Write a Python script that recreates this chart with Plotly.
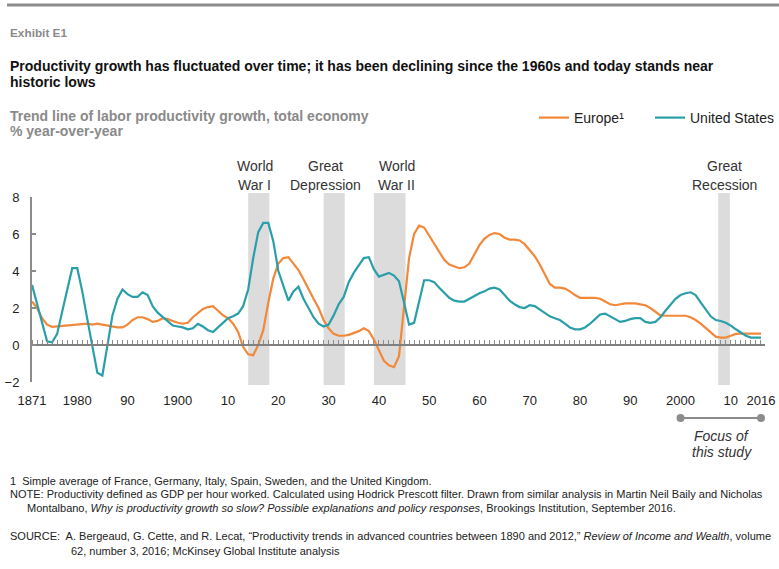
import plotly.graph_objects as go

years = list(range(1871, 2017))

us = [3.25, 2.2, 1.1, 0.2, 0.15, 0.6, 1.8, 2.9, 4.15, 4.15,
      2.9, 1.4, 0.0, -1.5, -1.65, 0.0, 1.6, 2.5, 3.0, 2.75,
      2.6, 2.6, 2.85, 2.7, 2.1, 1.75, 1.5, 1.25, 1.05, 1.0,
      0.95, 0.85, 0.9, 1.15, 1.0, 0.8, 0.7, 0.95, 1.2, 1.45,
      1.55, 1.7, 2.1, 3.0, 4.7, 6.1, 6.6, 6.6, 5.6, 4.0,
      3.2, 2.4, 2.9, 3.15, 2.5, 2.0, 1.5, 1.15, 1.0, 1.1,
      1.6, 2.2, 2.6, 3.4, 3.9, 4.3, 4.7, 4.75, 4.1, 3.7,
      3.8, 3.9, 3.75, 3.45, 2.3, 1.1, 1.2, 2.3, 3.5, 3.5,
      3.4, 3.1, 2.8, 2.55, 2.4, 2.35, 2.35, 2.5, 2.65, 2.8,
      2.9, 3.05, 3.1, 3.0, 2.7, 2.4, 2.2, 2.05, 2.0, 2.15,
      2.1, 1.9, 1.7, 1.55, 1.45, 1.35, 1.15, 0.95, 0.85, 0.85,
      0.95, 1.15, 1.4, 1.65, 1.7, 1.55, 1.4, 1.25, 1.3, 1.4,
      1.45, 1.45, 1.25, 1.2, 1.25, 1.5, 1.85, 2.2, 2.5, 2.7,
      2.8, 2.85, 2.7, 2.3, 1.9, 1.55, 1.35, 1.3, 1.2, 1.05,
      0.85, 0.65, 0.5, 0.4, 0.4, 0.4]

europe = [2.35, 2.0, 1.45, 1.1, 0.98, 1.0, 1.05, 1.05, 1.05, 1.1,
          1.1, 1.15, 1.1, 1.15, 1.1, 1.05, 1.0, 0.95, 0.95, 1.1,
          1.35, 1.5, 1.5, 1.4, 1.25, 1.3, 1.45, 1.4, 1.3, 1.2,
          1.15, 1.2, 1.5, 1.75, 1.95, 2.05, 2.1, 1.85, 1.6, 1.45,
          1.15, 0.7, -0.1, -0.5, -0.55, 0.0, 0.8, 2.3, 3.6, 4.4,
          4.7, 4.75, 4.4, 4.05, 3.55, 3.0, 2.5, 2.0, 1.35, 0.9,
          0.6, 0.5, 0.5, 0.55, 0.65, 0.75, 0.9, 0.75, 0.3, -0.3,
          -0.85, -1.1, -1.2, -0.6, 2.0, 4.7, 6.0, 6.45, 6.35, 5.9,
          5.45, 5.0, 4.6, 4.35, 4.25, 4.15, 4.2, 4.4, 4.9, 5.4,
          5.75, 5.95, 6.05, 6.0, 5.8, 5.7, 5.7, 5.65, 5.45, 5.15,
          4.8, 4.35, 3.85, 3.3, 3.1, 3.1, 3.05, 2.9, 2.7, 2.55,
          2.55, 2.55, 2.55, 2.5, 2.35, 2.2, 2.15, 2.2, 2.25, 2.25,
          2.25, 2.2, 2.15, 2.0, 1.8, 1.6, 1.58, 1.58, 1.58, 1.58,
          1.58, 1.5, 1.35, 1.15, 0.9, 0.65, 0.45, 0.4, 0.4, 0.5,
          0.6, 0.62, 0.62, 0.62, 0.62, 0.62]

tick_years = [1871, 1880, 1890, 1900, 1910, 1920, 1930, 1940, 1950, 1960,
              1970, 1980, 1990, 2000, 2010, 2016]
tick_labels = ["1871", "1980", "90", "1900", "10", "20", "30", "40", "50", "60",
               "70", "80", "90", "2000", "10", "2016"]
y_ticks = [-2, 0, 2, 4, 6, 8]

# (line 1, line 2, band start, band end, label centre year)
events = [("World", "War I", 1914, 1918.2, 1915.3),
          ("Great", "Depression", 1929, 1933.2, 1929.3),
          ("World", "War II", 1939, 1945.3, 1943.6),
          ("Great", "Recession", 2007.5, 2009.8, 2008.8)]

W, H = 779, 569
L, R, T, B = 32, 14, 193, 184
PW, PH = W - L - R, H - T - B
bottom_px = H - B


def px(x):
    return (x - L) / PW


def py(y):
    return (bottom_px - y) / PH


ylo, yhi = py(382), py(197)
zero_pos = ylo + (0 - (-2)) / 10 * (yhi - ylo)

ORANGE = "#F2883A"
TEAL = "#2A9FA9"
FONT = "Liberation Sans, Arial, sans-serif"

fig = go.Figure()
fig.add_trace(go.Scatter(x=years, y=europe, mode="lines", name="Europe¹",
                         line=dict(color=ORANGE, width=2.2), legend="legend"))
fig.add_trace(go.Scatter(x=years, y=us, mode="lines", name="United States",
                         line=dict(color=TEAL, width=2.2), legend="legend2"))
fig.add_trace(go.Scatter(x=[years[0], years[-1]], y=[0, 0], xaxis="x2", mode="lines",
                         line=dict(color="rgba(0,0,0,0)", width=0), showlegend=False,
                         hoverinfo="skip"))

xrange = [1871, 2016.8]

shapes = []
for l1, l2, x0, x1, xl in events:
    shapes.append(dict(type="rect", xref="x", yref="paper", x0=x0, x1=x1, y0=0, y1=1,
                       fillcolor="#DCDCDC", line=dict(width=0), layer="below"))
# top rule
shapes.append(dict(type="line", xref="paper", yref="paper", x0=px(7), x1=px(779),
                   y0=py(5), y1=py(5), line=dict(color="#8C8C8C", width=3)))
# focus bracket
shapes.append(dict(type="line", xref="x", yref="paper", x0=2000, x1=2016,
                   y0=py(418), y1=py(418), line=dict(color="#8C8C8C", width=2)))
for xv in (2000, 2016):
    shapes.append(dict(type="circle", xref="x", yref="paper", xsizemode="pixel",
                       ysizemode="pixel", xanchor=xv, yanchor=py(418),
                       x0=-4, x1=4, y0=-4, y1=4, fillcolor="#8C8C8C",
                       line=dict(width=0)))

annotations = []
for l1, l2, x0, x1, xl in events:
    for s, yy in ((l1, 166), (l2, 185)):
        annotations.append(dict(x=xl, xref="x", y=py(yy), yref="paper", text=s,
                                showarrow=False, xanchor="center", yanchor="middle",
                                font=dict(family=FONT, size=14, color="#333333")))


def txt(x, y, s, size, color, bold=False, italic=False, anchor="left"):
    if bold:
        s = "<b>" + s + "</b>"
    if italic:
        s = "<i>" + s + "</i>"
    annotations.append(dict(x=px(x), y=py(y), xref="paper", yref="paper", text=s,
                            showarrow=False, xanchor=anchor, yanchor="middle",
                            font=dict(family=FONT, size=size, color=color),
                            align="left" if anchor == "left" else "center"))


txt(8, 33, "Exhibit E1", 11.8, "#8A8A8A", bold=True)
txt(8, 66, "Productivity growth has fluctuated over time; it has been declining since the 1960s and today stands near", 14, "#111111", bold=True)
txt(8, 82, "historic lows", 14, "#111111", bold=True)
txt(8, 116, "Trend line of labor productivity growth, total economy", 14, "#8A8A8A", bold=True)
txt(8, 131, "% year-over-year", 14, "#8A8A8A", bold=True)
txt(722, 436, "Focus of", 14, "#333333", italic=True, anchor="center")
txt(722, 452, "this study", 14, "#333333", italic=True, anchor="center")

fn = 11
txt(8, 481, "1  Simple average of France, Germany, Italy, Spain, Sweden, and the United Kingdom.", fn, "#222222")
txt(8, 494, "NOTE: Productivity defined as GDP per hour worked. Calculated using Hodrick Prescott filter. Drawn from similar analysis in Martin Neil Baily and Nicholas", fn, "#222222")
txt(25, 508, "Montalbano, <i>Why is productivity growth so slow? Possible explanations and policy responses</i>, Brookings Institution, September 2016.", fn, "#222222")
txt(8, 536, "SOURCE:  A. Bergeaud, G. Cette, and R. Lecat, \u201cProductivity trends in advanced countries between 1890 and 2012,\u201d <i>Review of Income and Wealth</i>, volume", fn, "#222222")
txt(69, 551, "62, number 3, 2016; McKinsey Global Institute analysis", fn, "#222222")

legend_common = dict(orientation="h", xanchor="left", yanchor="middle",
                     xref="paper", yref="paper", bgcolor="rgba(0,0,0,0)",
                     font=dict(family=FONT, size=14, color="#222222"), itemwidth=30)

fig.update_layout(
    width=W, height=H,
    margin=dict(l=L, r=R, t=T, b=B, pad=0, autoexpand=False),
    paper_bgcolor="white", plot_bgcolor="white",
    font=dict(family=FONT, size=13, color="#222222"),
    showlegend=True,
    legend=dict(x=px(534), y=py(118), **legend_common),
    legend2=dict(x=px(650), y=py(118), **legend_common),
    xaxis=dict(range=xrange, showgrid=False, zeroline=False, showline=False,
               tickvals=tick_years, ticktext=tick_labels, ticks="",
               ticklabelstandoff=9, tickfont=dict(size=13, color="#222222")),
    xaxis2=dict(range=xrange, overlaying="x", anchor="free", position=zero_pos,
                side="top", showgrid=False, zeroline=False, showline=True,
                linecolor="#808080", linewidth=1.8, ticks="outside", ticklen=4,
                tickwidth=1.3, tickcolor="#8C8C8C", tick0=1871, dtick=1,
                showticklabels=False),
    yaxis=dict(domain=[ylo, yhi], range=[-2, 8], showgrid=False, zeroline=False,
               showline=True, linecolor="#8C8C8C", linewidth=2, ticks="inside",
               ticklen=4, tickcolor="#8C8C8C", tickwidth=1.5, tickvals=y_ticks,
               tickfont=dict(size=13, color="#222222"), ticklabelstandoff=8),
    shapes=shapes,
    annotations=annotations,
)

fig.write_html("out.html", config={"displayModeBar": False},
               post_script="document.body.style.margin='0';document.body.style.overflow='hidden';")
